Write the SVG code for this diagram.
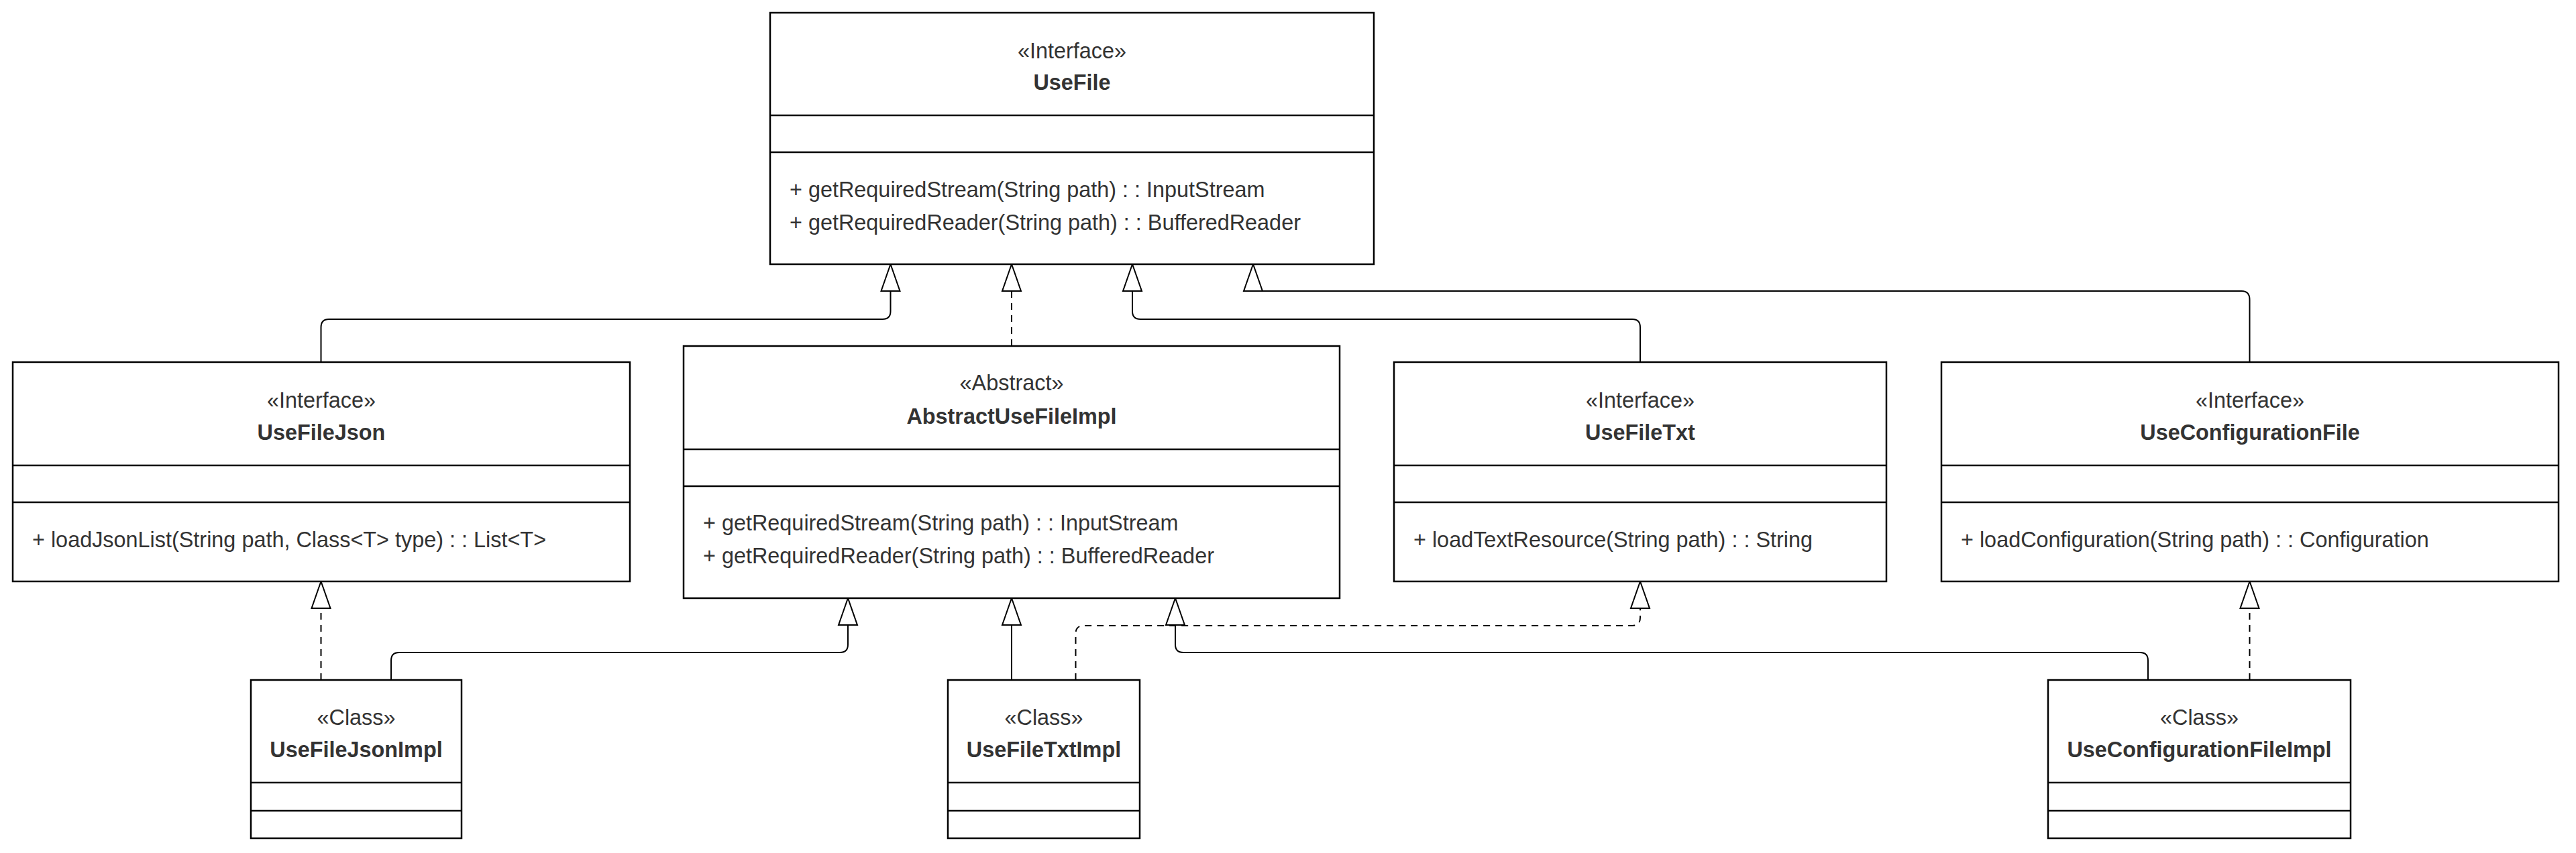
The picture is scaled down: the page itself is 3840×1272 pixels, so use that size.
<svg xmlns="http://www.w3.org/2000/svg" width="3840" height="1272" viewBox="0 0 3840 1272">
<style>
.box{fill:#ffffff;stroke:#000000;stroke-width:2.5}
.div{stroke:#000000;stroke-width:2.5}
.st{font-family:"Liberation Sans",Arial,sans-serif;font-size:32.4px;fill:#333333;text-anchor:middle}
.ti{font-family:"Liberation Sans",Arial,sans-serif;font-size:32.4px;font-weight:bold;fill:#333333;text-anchor:middle}
.me{font-family:"Liberation Sans",Arial,sans-serif;font-size:32.4px;fill:#333333}
.ln{fill:none;stroke:#000000;stroke-width:2}
.dash{stroke-dasharray:10 8}
.arr{fill:#ffffff;stroke:#000000;stroke-width:2}
</style>
<rect width="3840" height="1272" fill="#ffffff"/>
<g id="connectors">
<path class="ln" d="M478.5,540 V488 Q478.5,476 490.5,476 H1315.5 Q1327.5,476 1327.5,464 V434"/>
<path class="ln dash" d="M1508,516 V434"/>
<path class="ln" d="M2445,540 V488 Q2445,476 2433,476 H1700 Q1688,476 1688,464 V434"/>
<path class="ln" d="M3353.5,540 V447 Q3353.5,434 3341.5,434 H1868"/>
<path class="ln dash" d="M478.5,1014 V907"/>
<path class="ln" d="M583,1014 V985 Q583,973 595,973 H1252 Q1264,973 1264,961 V932"/>
<path class="ln" d="M1508,1014 V932"/>
<path class="ln dash" d="M1603.5,1014 V945 Q1603.5,933 1615.5,933 H2433 Q2445,933 2445,921 V907"/>
<path class="ln" d="M3202,1014 V985 Q3202,973 3190,973 H1764 Q1752,973 1752,961 V932"/>
<path class="ln dash" d="M3353.5,1014 V907"/>
<polygon class="arr" points="1327.5,394 1313.5,434 1341.5,434"/>
<polygon class="arr" points="1508,394 1494,434 1522,434"/>
<polygon class="arr" points="1688,394 1674,434 1702,434"/>
<polygon class="arr" points="1868,394 1854,434 1882,434"/>
<polygon class="arr" points="478.5,867 464.5,907 492.5,907"/>
<polygon class="arr" points="1264,892 1250,932 1278,932"/>
<polygon class="arr" points="1508,892 1494,932 1522,932"/>
<polygon class="arr" points="1752,892 1738,932 1766,932"/>
<polygon class="arr" points="2445,867 2431,907 2459,907"/>
<polygon class="arr" points="3353.5,867 3339.5,907 3367.5,907"/>
</g>
<g id="UseFile">
<rect class="box" x="1148" y="19" width="900" height="375"/>
<line class="div" x1="1148" y1="172" x2="2048" y2="172"/>
<line class="div" x1="1148" y1="227" x2="2048" y2="227"/>
<text class="st" x="1598" y="87">«Interface»</text>
<text class="ti" x="1598" y="134">UseFile</text>
<text class="me" x="1177" y="294">+ getRequiredStream(String path) : : InputStream</text>
<text class="me" x="1177" y="343">+ getRequiredReader(String path) : : BufferedReader</text>
</g>
<g id="UseFileJson">
<rect class="box" x="19" y="540" width="920" height="327"/>
<line class="div" x1="19" y1="694" x2="939" y2="694"/>
<line class="div" x1="19" y1="749" x2="939" y2="749"/>
<text class="st" x="479" y="608">«Interface»</text>
<text class="ti" x="479" y="656">UseFileJson</text>
<text class="me" x="48" y="816">+ loadJsonList(String path, Class&lt;T&gt; type) : : List&lt;T&gt;</text>
</g>
<g id="AbstractUseFileImpl">
<rect class="box" x="1019" y="516" width="978" height="376"/>
<line class="div" x1="1019" y1="670" x2="1997" y2="670"/>
<line class="div" x1="1019" y1="725" x2="1997" y2="725"/>
<text class="st" x="1508" y="582">«Abstract»</text>
<text class="ti" x="1508" y="632">AbstractUseFileImpl</text>
<text class="me" x="1048" y="791">+ getRequiredStream(String path) : : InputStream</text>
<text class="me" x="1048" y="840">+ getRequiredReader(String path) : : BufferedReader</text>
</g>
<g id="UseFileTxt">
<rect class="box" x="2078" y="540" width="734" height="327"/>
<line class="div" x1="2078" y1="694" x2="2812" y2="694"/>
<line class="div" x1="2078" y1="749" x2="2812" y2="749"/>
<text class="st" x="2445" y="608">«Interface»</text>
<text class="ti" x="2445" y="656">UseFileTxt</text>
<text class="me" x="2107" y="816">+ loadTextResource(String path) : : String</text>
</g>
<g id="UseConfigurationFile">
<rect class="box" x="2894" y="540" width="920" height="327"/>
<line class="div" x1="2894" y1="694" x2="3814" y2="694"/>
<line class="div" x1="2894" y1="749" x2="3814" y2="749"/>
<text class="st" x="3354" y="608">«Interface»</text>
<text class="ti" x="3354" y="656">UseConfigurationFile</text>
<text class="me" x="2923" y="816">+ loadConfiguration(String path) : : Configuration</text>
</g>
<g id="UseFileJsonImpl">
<rect class="box" x="374" y="1014" width="314" height="236"/>
<line class="div" x1="374" y1="1167" x2="688" y2="1167"/>
<line class="div" x1="374" y1="1209" x2="688" y2="1209"/>
<text class="st" x="531" y="1081">«Class»</text>
<text class="ti" x="531" y="1129">UseFileJsonImpl</text>
</g>
<g id="UseFileTxtImpl">
<rect class="box" x="1413" y="1014" width="286" height="236"/>
<line class="div" x1="1413" y1="1167" x2="1699" y2="1167"/>
<line class="div" x1="1413" y1="1209" x2="1699" y2="1209"/>
<text class="st" x="1556" y="1081">«Class»</text>
<text class="ti" x="1556" y="1129">UseFileTxtImpl</text>
</g>
<g id="UseConfigurationFileImpl">
<rect class="box" x="3053" y="1014" width="451" height="236"/>
<line class="div" x1="3053" y1="1167" x2="3504" y2="1167"/>
<line class="div" x1="3053" y1="1209" x2="3504" y2="1209"/>
<text class="st" x="3278.5" y="1081">«Class»</text>
<text class="ti" x="3278.5" y="1129">UseConfigurationFileImpl</text>
</g>
</svg>
